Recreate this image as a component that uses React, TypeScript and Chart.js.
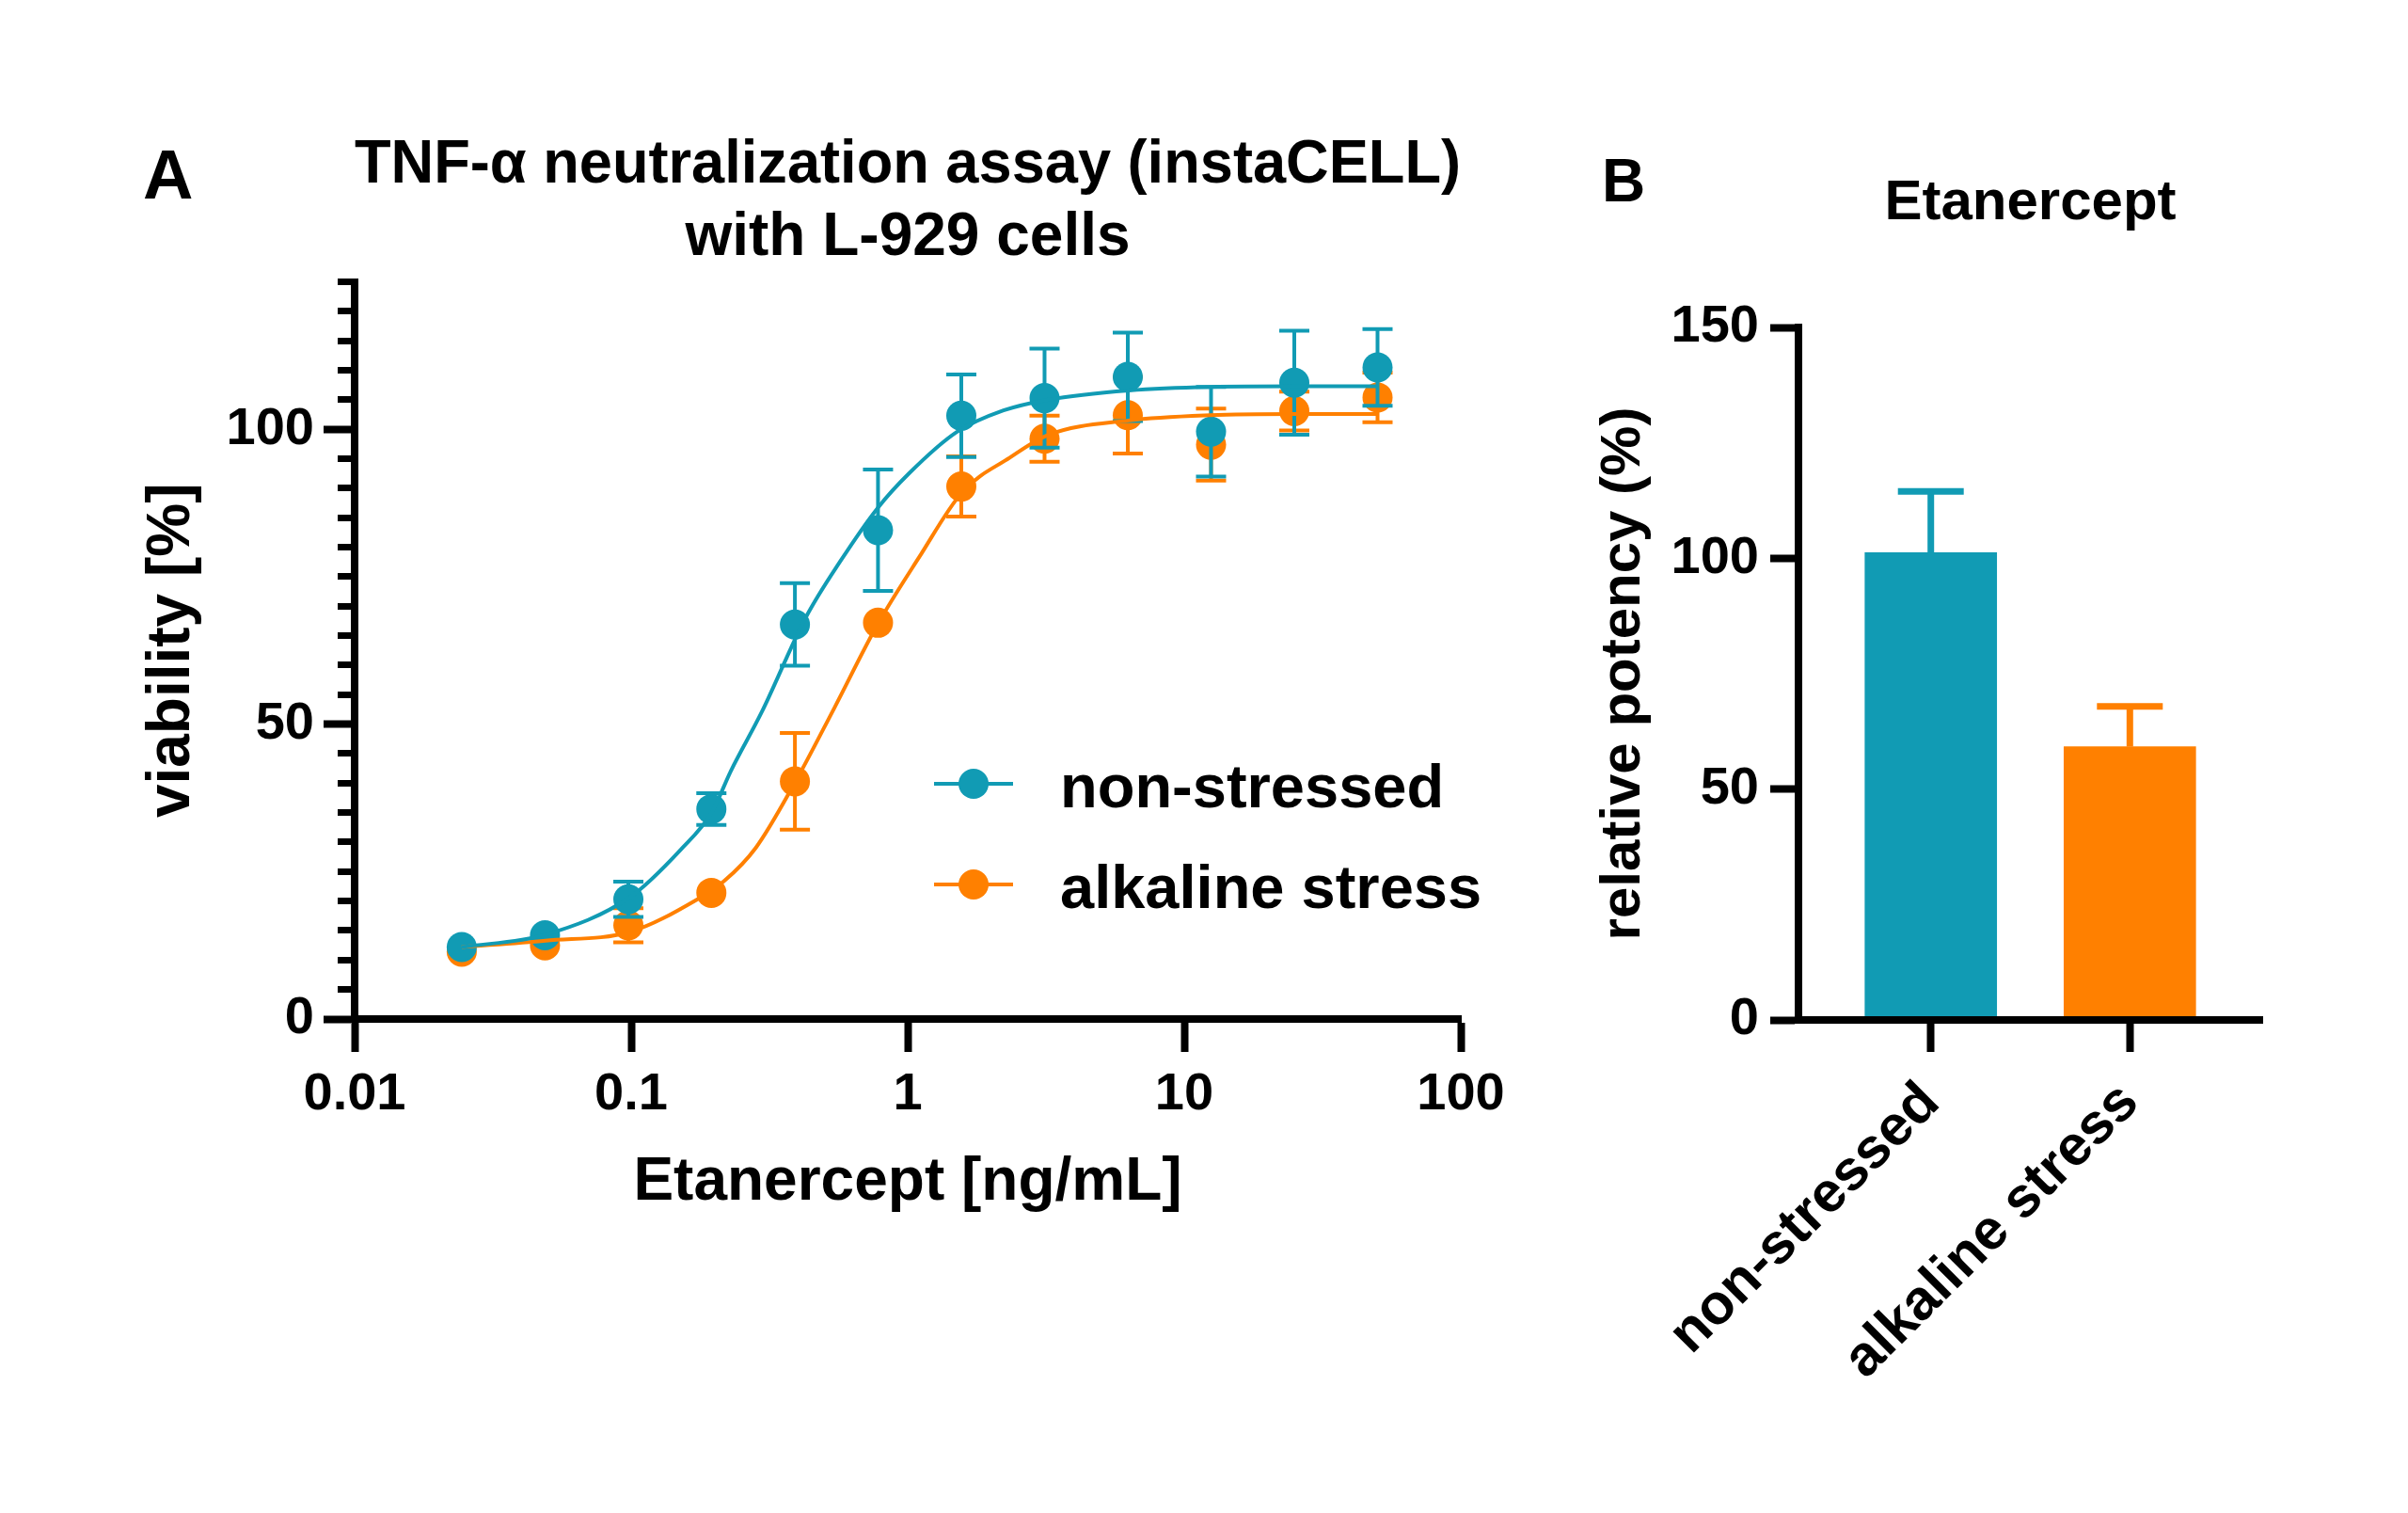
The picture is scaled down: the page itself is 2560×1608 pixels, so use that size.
import React, { useEffect, useRef } from 'react';
import { Chart, registerables } from 'chart.js';

Chart.register(...registerables);

const FONT = "'Liberation Sans', Arial, Helvetica, sans-serif";
const TEAL = '#119BB4';
const ORANGE = '#FF8000';
const BLACK = '#000000';

// ---------- Panel A data ----------
const seriesNames = ['non-stressed', 'alkaline stress'];
const concentrations = [0.0244, 0.0488, 0.0977, 0.195, 0.391, 0.781, 1.5625, 3.125, 6.25, 12.5, 25, 50];
const nonStressedMean = [12.2, 14.2, 20.3, 35.6, 66.9, 82.9, 102.3, 105.3, 108.9, 99.6, 107.9, 110.5];
const nonStressedSD = [0, 0, 3.0, 2.7, 7.0, 10.3, 7.0, 8.4, 7.5, 7.6, 8.8, 6.5];
const alkalineMean = [11.4, 12.5, 15.9, 21.4, 40.3, 67.2, 90.3, 98.4, 102.4, 97.4, 103.1, 105.4];
const alkalineSD = [0, 0, 2.9, 0, 8.2, 0, 5.1, 3.9, 6.5, 6.1, 3.3, 4.2];
// fitted curves
const nonStressedFitX = [0.0244, 0.049, 0.0993, 0.151, 0.196, 0.229, 0.297, 0.428, 0.57, 0.78, 1.01, 1.5, 2.22, 3.2, 6.3, 12.4, 25, 50];
const nonStressedFitY = [12.2, 14.3, 20.7, 28.7, 35.1, 42.0, 52.1, 68.1, 77.6, 86.7, 92.5, 99.5, 103.2, 105.0, 106.6, 107.2, 107.3, 107.3];
const alkalineFitX = [0.0244, 0.049, 0.0993, 0.172, 0.217, 0.282, 0.39, 0.541, 0.78, 1.096, 1.578, 2.34, 3.2, 6.3, 12.4, 25, 50];
const alkalineFitY = [12.2, 13.3, 14.8, 20.2, 23.4, 29.0, 40.0, 52.6, 67.0, 78.2, 89.4, 95.2, 99.0, 101.5, 102.4, 102.6, 102.6];
const xTickValues = [0.01, 0.1, 1, 10, 100];
const xTickLabels = ['0.01', '0.1', '1', '10', '100'];
const yMajorTicks = [0, 50, 100];
const yMinorTicks = [0, 5, 10, 15, 20, 25, 30, 35, 40, 45, 50, 55, 60, 65, 70, 75, 80, 85, 90, 95, 100, 105, 110, 115, 120, 125];

// ---------- Panel B data ----------
const potencyCategories = ['non-stressed', 'alkaline stress'];
const potencyMean = [101.2, 59.2];
const potencySD = [13.3, 8.7];
const potencyTicks = [0, 50, 100, 150];

const seriesColors = [TEAL, ORANGE];

const zip = (xs: number[], ys: number[]) => xs.map((x, i) => ({ x, y: ys[i] }));

const errorBarsA = {
  id: 'errorBarsA',
  beforeDatasetDraw(chart: any, args: any) {
    const ds = chart.data.datasets[args.index];
    if (!ds.errorBars) return;
    const ctx = chart.ctx;
    const xS = chart.scales.x;
    const yS = chart.scales.y;
    ctx.save();
    ctx.strokeStyle = ds.pointBackgroundColor;
    ctx.lineWidth = 4;
    ctx.lineCap = 'butt';
    ds.data.forEach((p: any, i: number) => {
      const sd = ds.errorBars[i];
      if (!sd) return;
      const px = xS.getPixelForValue(p.x);
      const top = yS.getPixelForValue(p.y + sd);
      const bot = yS.getPixelForValue(p.y - sd);
      ctx.beginPath();
      ctx.moveTo(px, top);
      ctx.lineTo(px, bot);
      ctx.moveTo(px - 16, top);
      ctx.lineTo(px + 16, top);
      ctx.moveTo(px - 16, bot);
      ctx.lineTo(px + 16, bot);
      ctx.stroke();
    });
    ctx.restore();
  },
};

const legendA = {
  id: 'legendA',
  afterDraw(chart: any, _args: any, opts: any) {
    const ctx = chart.ctx;
    ctx.save();
    seriesNames.forEach((name, i) => {
      const y = opts.y + i * opts.rowGap;
      ctx.strokeStyle = seriesColors[i];
      ctx.lineWidth = 4;
      ctx.beginPath();
      ctx.moveTo(opts.x, y);
      ctx.lineTo(opts.x + opts.lineLen, y);
      ctx.stroke();
      ctx.fillStyle = seriesColors[i];
      ctx.beginPath();
      ctx.arc(opts.x + opts.lineLen / 2, y, 16, 0, Math.PI * 2);
      ctx.fill();
      ctx.fillStyle = BLACK;
      ctx.font = `bold ${opts.size}px ${FONT}`;
      ctx.textAlign = 'left';
      ctx.textBaseline = 'alphabetic';
      ctx.fillText(name, opts.textX, y + opts.baseOffset);
    });
    ctx.restore();
  },
};

const panelLabel = {
  id: 'panelLabel',
  afterDraw(chart: any, _args: any, opts: any) {
    const ctx = chart.ctx;
    ctx.save();
    ctx.fillStyle = BLACK;
    ctx.font = `bold ${opts.size}px ${FONT}`;
    ctx.textAlign = 'left';
    ctx.textBaseline = 'alphabetic';
    ctx.fillText(opts.text, opts.x, opts.y);
    ctx.restore();
  },
};

const errorBarsB = {
  id: 'errorBarsB',
  afterDatasetsDraw(chart: any) {
    const ctx = chart.ctx;
    const xS = chart.scales.x;
    const yS = chart.scales.y;
    ctx.save();
    ctx.lineWidth = 7;
    ctx.lineCap = 'butt';
    potencyMean.forEach((m, i) => {
      const px = xS.getPixelForValue(i);
      const y0 = yS.getPixelForValue(m);
      const y1 = yS.getPixelForValue(m + potencySD[i]);
      ctx.strokeStyle = seriesColors[i];
      ctx.beginPath();
      ctx.moveTo(px, y0);
      ctx.lineTo(px, y1);
      ctx.moveTo(px - 35, y1);
      ctx.lineTo(px + 35, y1);
      ctx.stroke();
    });
    ctx.restore();
  },
};

const tickFont = { size: 56, weight: 'bold' as const, family: FONT, lineHeight: 1.2 };

export default function App() {
  const refA = useRef<HTMLCanvasElement>(null);
  const refB = useRef<HTMLCanvasElement>(null);

  useEffect(() => {
    Chart.defaults.font.family = FONT;
    Chart.defaults.color = BLACK;

    const chartA = new Chart(refA.current as HTMLCanvasElement, {
      type: 'line',
      data: {
        datasets: [
          {
            label: seriesNames[0] + ' fit',
            data: zip(nonStressedFitX, nonStressedFitY),
            borderColor: TEAL,
            borderWidth: 4,
            pointRadius: 0,
            cubicInterpolationMode: 'monotone',
            fill: false,
            order: 0,
            clip: false,
          },
          {
            label: seriesNames[1] + ' fit',
            data: zip(alkalineFitX, alkalineFitY),
            borderColor: ORANGE,
            borderWidth: 4,
            pointRadius: 0,
            cubicInterpolationMode: 'monotone',
            fill: false,
            order: 1,
            clip: false,
          },
          {
            label: seriesNames[0],
            data: zip(concentrations, nonStressedMean),
            showLine: false,
            pointRadius: 16,
            pointBackgroundColor: TEAL,
            pointBorderWidth: 0,
            borderColor: TEAL,
            order: 2,
            clip: false,
            errorBars: nonStressedSD,
          } as any,
          {
            label: seriesNames[1],
            data: zip(concentrations, alkalineMean),
            showLine: false,
            pointRadius: 16,
            pointBackgroundColor: ORANGE,
            pointBorderWidth: 0,
            borderColor: ORANGE,
            order: 3,
            clip: false,
            errorBars: alkalineSD,
          } as any,
        ],
      },
      options: {
        responsive: false,
        animation: false,
        events: [],
        layout: { padding: { left: 0, top: 0, right: 147, bottom: 0 } },
        plugins: {
          legend: { display: false },
          tooltip: { enabled: false },
          title: {
            display: true,
            fullSize: false,
            text: ['TNF-α neutralization assay (instaCELL)', 'with L-929 cells'],
            color: BLACK,
            font: { size: 64, weight: 'bold', family: FONT, lineHeight: 1.2 },
            padding: { top: 138, bottom: 8 },
          },
          legendA: { x: 993, y: 833, rowGap: 107, lineLen: 84, textX: 1127, baseOffset: 25, size: 65 },
          panelLabel: { text: 'A', x: 152, y: 211, size: 74 },
        } as any,
        scales: {
          x: {
            type: 'logarithmic',
            min: 0.01,
            max: 100,
            afterBuildTicks: (s: any) => {
              s.ticks = xTickValues.map((v) => ({ value: v }));
            },
            afterFit: (s: any) => {
              s.height = 525;
            },
            ticks: {
              autoSkip: false,
              maxRotation: 0,
              minRotation: 0,
              padding: 12,
              color: BLACK,
              font: tickFont,
              callback: (v: any) => {
                const i = xTickValues.indexOf(Number(v));
                return i >= 0 ? xTickLabels[i] : '';
              },
            },
            grid: { display: true, drawOnChartArea: false, drawTicks: true, tickLength: 35, tickWidth: 8, tickColor: BLACK },
            border: { display: true, width: 8, color: BLACK, z: 1 },
            title: {
              display: true,
              text: 'Etanercept [ng/mL]',
              color: BLACK,
              font: { size: 64, weight: 'bold', family: FONT, lineHeight: 1.2 },
              padding: { top: 0, bottom: 312.6 },
            },
          },
          y: {
            type: 'linear',
            position: 'left',
            weight: 1,
            min: 0,
            max: 125,
            afterBuildTicks: (s: any) => {
              s.ticks = yMajorTicks.map((v) => ({ value: v }));
            },
            afterFit: (s: any) => {
              s.width = 377;
            },
            ticks: { autoSkip: false, padding: 10, color: BLACK, font: tickFont },
            grid: { display: true, drawOnChartArea: false, drawTicks: true, tickLength: 33, tickWidth: 8, tickColor: BLACK },
            border: { display: true, width: 8, color: BLACK, z: 1 },
            title: {
              display: true,
              text: 'viability [%]',
              color: BLACK,
              font: { size: 64, weight: 'bold', family: FONT, lineHeight: 1.2 },
              padding: { top: 144.6, bottom: 0 },
            },
          },
          yMinor: {
            type: 'linear',
            position: 'left',
            weight: 0,
            min: 0,
            max: 125,
            afterBuildTicks: (s: any) => {
              s.ticks = yMinorTicks.map((v) => ({ value: v }));
            },
            afterFit: (s: any) => {
              s.width = 0;
            },
            ticks: { display: false, autoSkip: false },
            grid: { display: true, drawOnChartArea: false, drawTicks: true, tickLength: 18, tickWidth: 7, tickColor: BLACK },
            border: { display: false },
          },
        },
      } as any,
      plugins: [errorBarsA, legendA, panelLabel],
    });

    const chartB = new Chart(refB.current as HTMLCanvasElement, {
      type: 'bar',
      data: {
        datasets: [
          {
            label: 'relative potency',
            data: potencyMean.map((v, i) => ({ x: i, y: v })),
            backgroundColor: seriesColors,
            borderWidth: 0,
            barThickness: 140,
          },
        ],
      },
      options: {
        responsive: false,
        animation: false,
        events: [],
        layout: { padding: { left: 0, top: 0, right: 155, bottom: 0 } },
        plugins: {
          legend: { display: false },
          tooltip: { enabled: false },
          title: {
            display: true,
            fullSize: false,
            text: 'Etanercept',
            color: BLACK,
            font: { size: 60, weight: 'bold', family: FONT, lineHeight: 1.2 },
            padding: { top: 180, bottom: 96 },
          },
          panelLabel: { text: 'B', x: 53, y: 214, size: 64 },
        } as any,
        scales: {
          x: {
            type: 'linear',
            offset: false,
            min: -0.665,
            max: 1.665,
            afterBuildTicks: (s: any) => {
              s.ticks = potencyCategories.map((_, i) => ({ value: i }));
            },
            afterFit: (s: any) => {
              s.height = 524;
            },
            ticks: {
              autoSkip: false,
              maxRotation: 45,
              minRotation: 45,
              padding: 19,
              color: BLACK,
              font: { size: 60, weight: 'bold', family: FONT, lineHeight: 1.2 },
              callback: (v: any) => potencyCategories[Math.round(Number(v))] ?? '',
            },
            grid: { display: true, offset: false, drawOnChartArea: false, drawTicks: true, tickLength: 34, tickWidth: 8, tickColor: BLACK },
            border: { display: true, width: 8, color: BLACK, z: 1 },
          },
          y: {
            type: 'linear',
            position: 'left',
            min: 0,
            max: 150,
            afterBuildTicks: (s: any) => {
              s.ticks = potencyTicks.map((v) => ({ value: v }));
            },
            afterFit: (s: any) => {
              s.width = 262;
            },
            ticks: { autoSkip: false, padding: 12, color: BLACK, font: tickFont },
            grid: { display: true, drawOnChartArea: false, drawTicks: true, tickLength: 30, tickWidth: 8, tickColor: BLACK },
            border: { display: true, width: 8, color: BLACK, z: 1 },
            title: {
              display: true,
              text: 'relative potency (%)',
              color: BLACK,
              font: { size: 60, weight: 'bold', family: FONT, lineHeight: 1.2 },
              padding: { top: 40, bottom: 0 },
            },
          },
        },
      } as any,
      plugins: [errorBarsB, panelLabel],
    });

    return () => {
      chartA.destroy();
      chartB.destroy();
    };
  }, []);

  return (
    <div style={{ position: 'absolute', left: 0, top: 0, width: 2560, height: 1608, background: '#ffffff' }}>
      <canvas
        ref={refA}
        width={1700}
        height={1608}
        style={{ position: 'absolute', left: 0, top: 0, width: 1700, height: 1608 }}
      />
      <canvas
        ref={refB}
        width={910}
        height={1608}
        style={{ position: 'absolute', left: 1650, top: 0, width: 910, height: 1608 }}
      />
    </div>
  );
}
